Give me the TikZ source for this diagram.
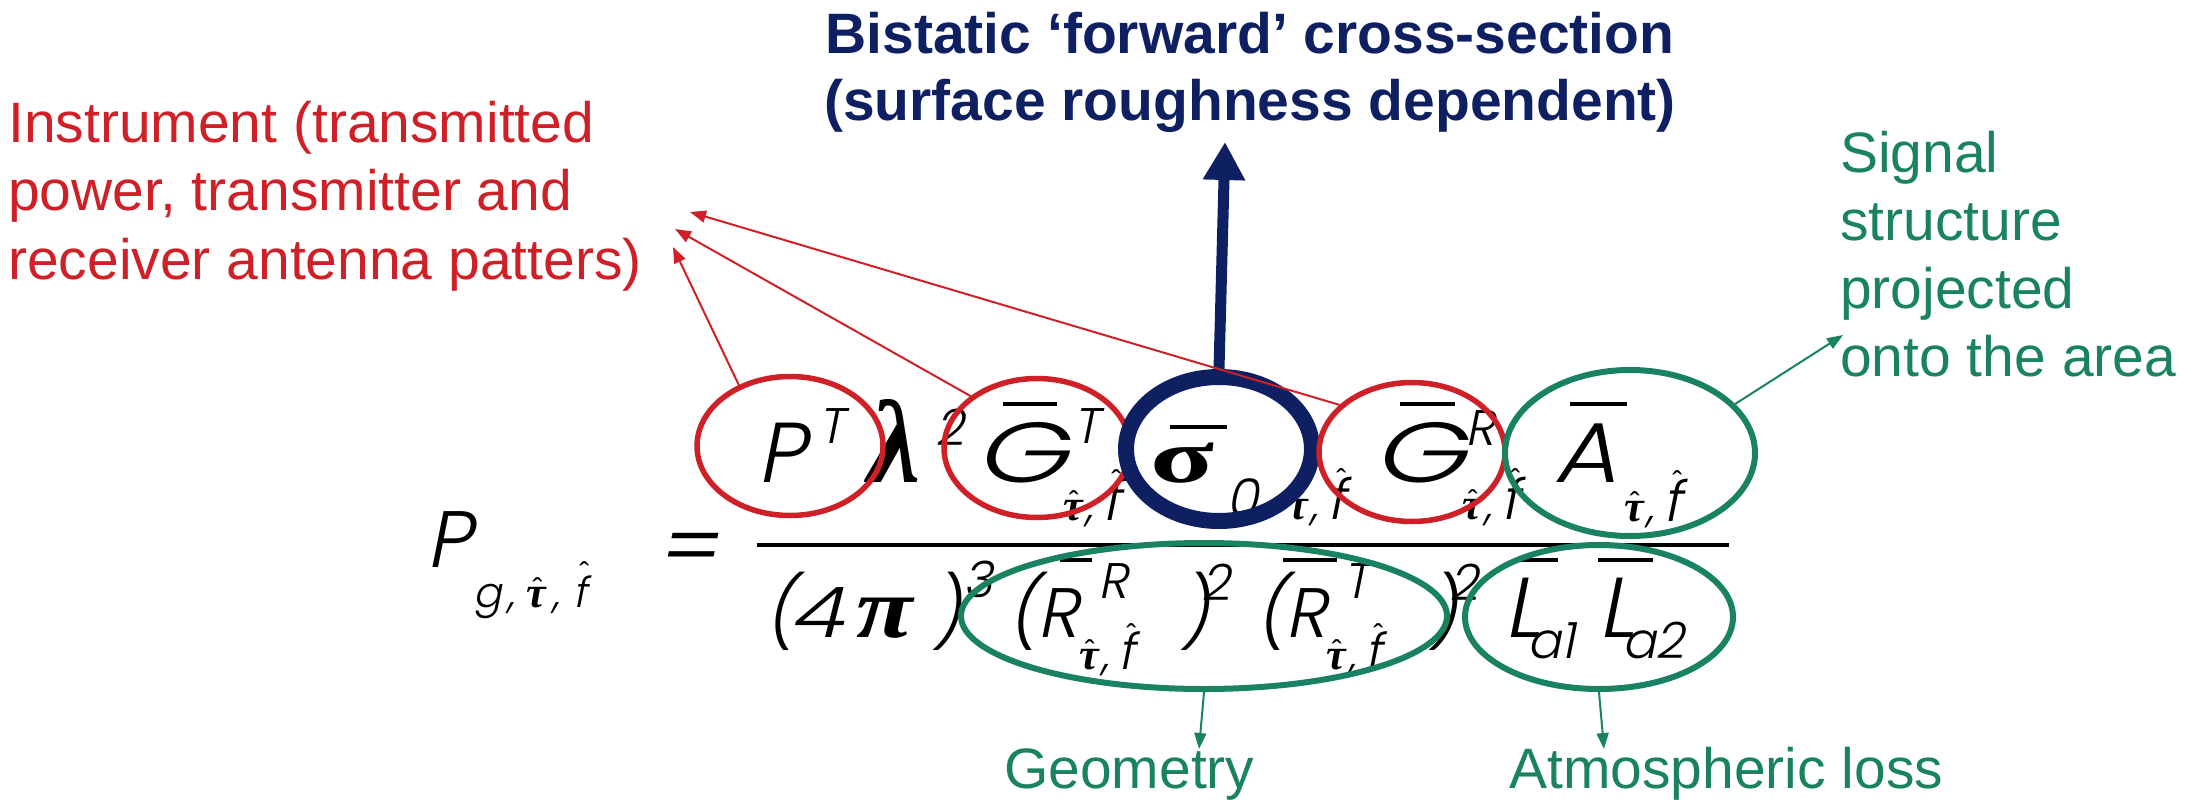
\documentclass[tikz,border=0pt]{standalone}
\usepackage{fontspec}
\usetikzlibrary{shapes.geometric,arrows.meta}
\setmainfont{Liberation Sans}
\newfontfamily\fgrk{Liberation Serif}
\IfFontExistsTF{Poppins Light}{\newfontfamily\fform[FakeSlant=0.2]{Poppins Light}}{\newfontfamily\fform[FakeSlant=0.2]{Poppins}}
\definecolor{myred}{RGB}{206,32,38}
\definecolor{mygreen}{RGB}{24,130,98}
\definecolor{mynavy}{RGB}{14,32,98}
% hat over a glyph: #1 raise, #2 extra right shift (x2), #3 glyph
\newcommand{\myhat}[3]{\leavevmode\setbox0\hbox{#3}\rlap{\hbox to \wd0{\hss\kern#2\raisebox{#1}{\normalfont\fontsize{30}{30}\selectfont ˆ}\hss}}\box0}
\newcommand{\tH}{\myhat{8pt}{2pt}{\fgrk\bfseries\itshape\fontsize{44}{44}\selectfont τ}}
% #1 f size, #2 hat raise
\newcommand{\subtf}[2]{\tH\kern3pt{\fontsize{44}{44}\selectfont,}\kern9pt\myhat{#2}{10pt}{\fontsize{#1}{#1}\selectfont f}}
\tikzset{
  lbl/.style={inner sep=0,anchor=base west,font=\fontsize{57}{66}\selectfont},
  ttl/.style={inner sep=0,anchor=base,text=mynavy,font=\bfseries\fontsize{57}{66}\selectfont},
  fnum/.style={inner sep=0,anchor=base west,font=\fform\fontsize{85}{85}\selectfont},
  fden/.style={inner sep=0,anchor=base west,font=\fform\fontsize{70}{70}\selectfont},
  fsup/.style={inner sep=0,anchor=base west,font=\fform\fontsize{50}{50}\selectfont},
  fsub/.style={inner sep=0,anchor=base west,font=\fform\fontsize{44}{44}\selectfont},
  fgr/.style={inner sep=0,anchor=base west,font=\fgrk\bfseries\fontsize{76}{76}\selectfont},
  fgri/.style={inner sep=0,anchor=base west,font=\fgrk\bfseries\itshape\fontsize{86}{86}\selectfont},
  fbar/.style={line width=3.5pt},
  redell/.style={ellipse,draw=myred,line width=5.5pt,minimum width=186pt,minimum height=139pt,inner sep=0},
  blueell/.style={ellipse,draw=mynavy,line width=16pt,minimum width=186pt,minimum height=144pt,inner sep=0},
  grnell/.style={ellipse,draw=mygreen,line width=6pt,inner sep=0},
  redarr/.style={draw=myred,line width=2pt,-{Triangle[length=16pt,width=12pt]}},
  grnarr/.style={draw=mygreen,line width=2pt,-{Triangle[length=16pt,width=12pt]}},
  bluearr/.style={draw=mynavy,line width=11pt,-{Triangle[length=38pt,width=40pt]}}
}
\begin{document}
\begin{tikzpicture}[x=1pt,y=-1pt]
\useasboundingbox (0,0) rectangle (2208,800);
% ---- labels
\node[lbl,text=myred] (ins1) at (8,142) {Instrument (transmitted};
\node[lbl,text=myred] (ins2) at (8,210) {power, transmitter and};
\node[lbl,text=myred] (ins3) at (8,279) {receiver antenna patters)};
\node[ttl] (bt1) at (1250,53) {Bistatic ‘forward’ cross-section};
\node[ttl] (bt2) at (1250,120) {(surface roughness dependent)};
\node[lbl,text=mygreen] (sg1) at (1840,172) {Signal};
\node[lbl,text=mygreen] (sg2) at (1840,240) {structure};
\node[lbl,text=mygreen] (sg3) at (1840,308) {projected};
\node[lbl,text=mygreen] (sg4) at (1840,376) {onto the area};
\node[lbl,text=mygreen] (geo) at (1004,788) {Geometry};
\node[lbl,text=mygreen] (atm) at (1509,788) {Atmospheric loss};
% ---- formula: left side
\node[fnum,font=\fform\fontsize{80}{80}\selectfont] (lP) at (426,567) {P};
\node[fsub,font=\fform\fontsize{42}{42}\selectfont] (lsub) at (473,607) {g\kern6pt,\kern12pt\tH\kern6pt,\kern14pt\myhat{24pt}{8pt}{f}};
\node[fnum,font=\fform\fontsize{90}{90}\selectfont] (eq) at (656,578) {=};
\draw[line width=4pt] (757,545) -- (1729,545);
% ---- numerator
\node[fnum] (nP) at (757,482) {P};
\node[fsup] (nT) at (818,443) {T};
\node[fgri,font=\fgrk\bfseries\itshape\fontsize{118}{118}\selectfont] (nLam) at (868,482) {λ};
\node[fsup] (n2) at (935,445) {2};
\node[fnum] (nG1) at (974,482) {\scalebox{1.4}[1]{G}};
\node[fsup] (nT2) at (1073,443) {T};
\node[fsub] (nS1) at (1063,520) {\subtf{56}{29pt}};
\node[fgr] (nSig) at (1150,482) {\scalebox{1.55}[1]{σ}};
\node[fsub,font=\fform\fontsize{52}{52}\selectfont] (n0) at (1226,516) {0};
\node[fsub] (nS2) at (1288,519) {\subtf{56}{29pt}};
\node[fnum] (nG2) at (1372,482) {\scalebox{1.4}[1]{G}};
\node[fsup] (nR) at (1465,445) {R};
\node[fsub] (nS3) at (1462,519) {\subtf{56}{29pt}};
\node[fnum] (nA) at (1553,482) {\scalebox{1.15}[1]{A}};
\node[fsub] (nS4) at (1624,521) {\subtf{56}{29pt}};
\draw[fbar] (1003,404) -- (1057,404);
\draw[fbar] (1170,427) -- (1227,427);
\draw[fbar] (1400,404) -- (1455,404);
\draw[fbar] (1570,404) -- (1627,404);
% ---- denominator
\node[fden] (dA) at (765,637) {(};
\node[fden] (d4) at (789,637) {\scalebox{1.25}[1]{4}};
\node[fgri] (dPi) at (856,637) {\scalebox{1.2}[1]{π}};
\node[fden] (dB) at (932,637) {)};
\node[fsup] (d3) at (963,597) {3};
\node[fden] (dC) at (1008,637) {(R};
\node[fsup] (dRs) at (1098,598) {R};
\node[fsub] (dS1) at (1079,669) {\subtf{50}{24pt}};
\node[fden] (dD) at (1180,637) {)};
\node[fsup] (d2a) at (1201,600) {2};
\node[fden] (dE) at (1256,637) {(R};
\node[fsup] (dTs) at (1343,598) {T};
\node[fsub] (dS2) at (1326,669) {\subtf{50}{24pt}};
\node[fden] (dF) at (1428,637) {)};
\node[fsup] (d2b) at (1449,600) {2};
\node[fnum] (dL1) at (1504,637) {L};
\node[fsub,font=\fform\fontsize{50}{50}\selectfont] (da1) at (1527,658) {a1};
\node[fnum] (dL2) at (1598,637) {L};
\node[fsub,font=\fform\fontsize{50}{50}\selectfont] (da2) at (1622,658) {a2};
\draw[fbar] (1060,560) -- (1092,560);
\draw[fbar] (1283,560) -- (1337,560);
\draw[fbar] (1517,560) -- (1558,560);
\draw[fbar] (1598,560) -- (1653,560);
% ---- ellipses
\node[redell] (eP) at (790,446) {};
\node[redell] (eGT) at (1037,448) {};
\node[blueell] (eS) at (1219,449) {};
\node[redell] (eGR) at (1412,452) {};
\node[grnell,minimum width=250pt,minimum height=166pt] (eA) at (1630,453) {};
\node[grnell,minimum width=486pt,minimum height=146pt] (eR) at (1204,616) {};
\node[grnell,minimum width=268pt,minimum height=144pt] (eL) at (1599,617) {};
% ---- connectors
\coordinate (tP) at (673,247);
\coordinate (tGT) at (675,229);
\coordinate (tGR) at (690,212);
\coordinate (tB) at (1225,142);
\coordinate (tSig) at (1843,335);
\coordinate (tGeo) at (1199,749);
\coordinate (tAtm) at (1604,749);
\draw[bluearr] (eS.north) -- (tB);
\draw[redarr] (eP.130) -- (tP);
\draw[redarr] (eGT.142) -- (tGT);
\draw[redarr] (eGR.147) -- (tGR);
\draw[grnarr] (eA.25) -- (tSig);
\draw[grnarr] (eR.south) -- (tGeo);
\draw[grnarr] (eL.south) -- (tAtm);
\end{tikzpicture}
\end{document}
